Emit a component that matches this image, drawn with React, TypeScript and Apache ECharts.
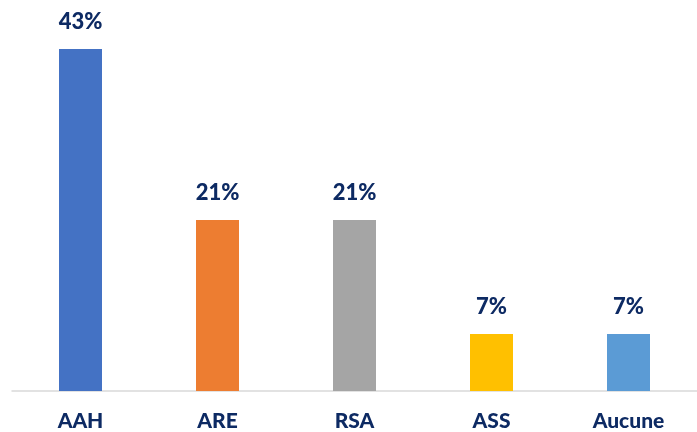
import React, { useEffect, useRef } from "react";
import * as echarts from "echarts";

const categories = ["AAH", "ARE", "RSA", "ASS", "Aucune"];
const values = [42.86, 21.43, 21.43, 7.14, 7.14];
const labels = ["43%", "21%", "21%", "7%", "7%"];
const colors = ["#4472C4", "#ED7D31", "#A5A5A5", "#FFC000", "#5B9BD5"];

export default function App() {
  const ref = useRef<HTMLDivElement>(null);
  useEffect(() => {
    const chart = echarts.init(ref.current!, null, { renderer: "svg" });
    chart.setOption({
      animation: false,
      grid: { left: 12, right: 0, top: 10, bottom: 41 },
      xAxis: {
        type: "category",
        data: categories,
        axisLine: { lineStyle: { color: "#D9D9D9", width: 1.5 } },
        axisTick: { show: false },
        axisLabel: {
          margin: 18,
          color: "#0D2A63",
          fontFamily: "Lato",
          fontWeight: 900,
          fontSize: 21,
        },
      },
      yAxis: {
        type: "value",
        min: 0,
        max: 47.75,
        show: false,
        splitLine: { show: false },
      },
      series: [
        {
          type: "bar",
          barWidth: 43,
          data: values.map((v, i) => ({
            value: v,
            itemStyle: { color: colors[i] },
          })),
          label: {
            show: true,
            position: "top",
            distance: 18,
            formatter: (p: any) => labels[p.dataIndex],
            color: "#0D2A63",
            fontFamily: "Lato",
            fontWeight: 900,
            fontSize: 22,
          },
        },
      ],
    });
    return () => chart.dispose();
  }, []);
  return (
    <div
      ref={ref}
      style={{ position: "fixed", left: 0, top: 0, width: 697, height: 432 }}
    />
  );
}
